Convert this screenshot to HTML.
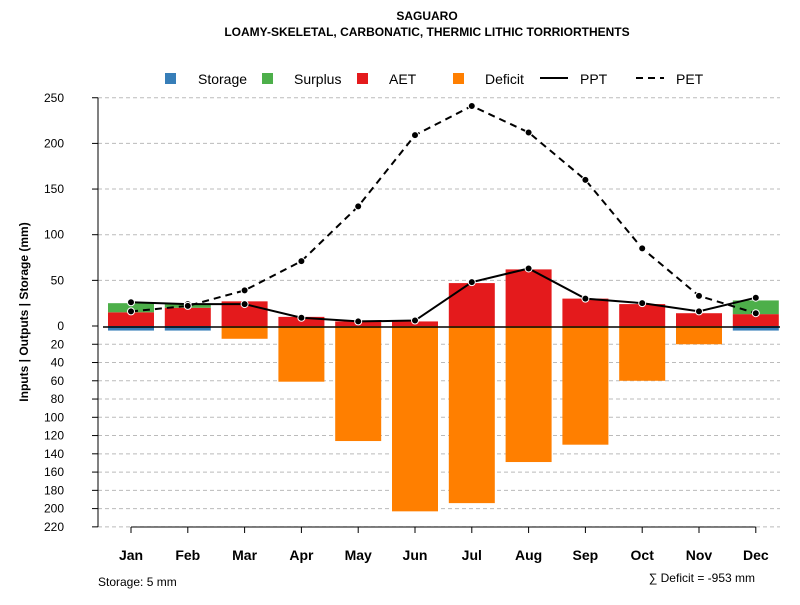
<!DOCTYPE html>
<html><head><meta charset="utf-8"><style>
body{margin:0;background:#fff;font-family:"Liberation Sans",sans-serif}
svg text{font-family:"Liberation Sans",sans-serif}
</style></head><body>
<svg id="c" width="800" height="600" xmlns="http://www.w3.org/2000/svg">
<text x="427" y="20" text-anchor="middle" font-size="12" font-weight="bold">SAGUARO</text>
<text x="427" y="36" text-anchor="middle" font-size="12" font-weight="bold">LOAMY-SKELETAL, CARBONATIC, THERMIC LITHIC TORRIORTHENTS</text>
<g id="grid"></g>
<g id="bars"></g>
<g id="lines"></g>
<g id="axis"></g>
<g id="xaxis"></g>
<text transform="translate(28,312) rotate(-90)" text-anchor="middle" font-size="12" font-weight="bold">Inputs | Outputs | Storage    (mm)</text>
<g>
<rect x="165" y="73" width="11" height="11" fill="#377eb8"/>
<text x="198" y="84" font-size="14">Storage</text>
<rect x="262" y="73" width="11" height="11" fill="#4daf4a"/>
<text x="294" y="84" font-size="14">Surplus</text>
<rect x="357" y="73" width="11" height="11" fill="#e41a1c"/>
<text x="389" y="84" font-size="14">AET</text>
<rect x="453" y="73" width="11" height="11" fill="#ff7f00"/>
<text x="485" y="84" font-size="14">Deficit</text>
<line x1="540" y1="78" x2="568" y2="78" stroke="#000" stroke-width="2"/>
<text x="580" y="84" font-size="14">PPT</text>
<line x1="636" y1="78" x2="664" y2="78" stroke="#000" stroke-width="2" stroke-dasharray="7,5"/>
<text x="676" y="84" font-size="14">PET</text>
</g>
<text x="98" y="586" font-size="12">Storage: 5 mm</text>
<text x="755" y="582" text-anchor="end" font-size="12">∑ Deficit = -953 mm</text>
</svg>
<script>
const months=["Jan","Feb","Mar","Apr","May","Jun","Jul","Aug","Sep","Oct","Nov","Dec"];
const aet=[15,20,27,10,5,5,47,62,30,24,14,13];
const surplus=[10,4,0,0,0,0,0,0,0,0,0,15];
const storage=[5,5,0,0,0,0,0,0,0,0,0,5];
const deficit=[0,0,14,61,126,203,194,149,130,60,20,0];
const ppt=[26,24,24,9,5,6,48,63,30,25,16,31];
const pet=[16,22,39,71,131,209,241,212,160,85,33,14];
const upTicks=[0,50,100,150,200,250];
const downTicks=[20,40,60,80,100,120,140,160,180,200,220];
const NS="http://www.w3.org/2000/svg";
const y0=326,k=0.913;
const yUp=v=>y0-v*k, yDn=v=>y0+v*k;
const xc=i=>131+i*56.8;
function mk(p,tag,a){const e=document.createElementNS(NS,tag);for(const n in a)e.setAttribute(n,a[n]);document.getElementById(p).appendChild(e);return e;}
upTicks.forEach(t=>{const y=yUp(t);
 if(t>0){const g=mk('grid','line',{x1:98,x2:780,y1:y,y2:y,stroke:'#bbb','stroke-dasharray':'4,3'});}
 const tk=mk('axis','line',{x1:92,x2:98,y1:y,y2:y,stroke:'#000'});
 const l=mk('axis','text',{x:64,y:y+4,'text-anchor':'end','font-size':12});l.textContent=t;});
downTicks.forEach(t=>{const y=yDn(t);
 const g=mk('grid','line',{x1:98,x2:780,y1:y,y2:y,stroke:'#bbb','stroke-dasharray':'4,3'});
 const tk=mk('axis','line',{x1:92,x2:98,y1:y,y2:y,stroke:'#000'});
 const l=mk('axis','text',{x:64,y:y+4,'text-anchor':'end','font-size':12});l.textContent=t;});
const ax=mk('axis','line',{x1:98,x2:98,y1:yUp(250),y2:yDn(220),stroke:'#000'});
const bw=46;
months.forEach((m,i)=>{const x=xc(i)-bw/2;
 if(aet[i]>0){const r=mk('bars','rect',{x:x,y:yUp(aet[i]),width:bw,height:aet[i]*k,fill:'#e41a1c'});}
 if(surplus[i]>0){const r=mk('bars','rect',{x:x,y:yUp(aet[i]+surplus[i]),width:bw,height:surplus[i]*k,fill:'#4daf4a'});}
 if(deficit[i]>0){const r=mk('bars','rect',{x:x,y:y0,width:bw,height:deficit[i]*k,fill:'#ff7f00'});}
 if(storage[i]>0){const r=mk('bars','rect',{x:x,y:y0,width:bw,height:storage[i]*k,fill:'#377eb8'});}
 const tk=mk('xaxis','line',{x1:xc(i),x2:xc(i),y1:527,y2:533,stroke:'#000'});
 const l=mk('xaxis','text',{x:xc(i),y:560,'text-anchor':'middle','font-size':14,'font-weight':'bold'});l.textContent=m;});
const xa=mk('xaxis','line',{x1:xc(0),x2:xc(11),y1:527,y2:527,stroke:'#000'});
const zl=mk('lines','line',{x1:103,x2:780,y1:y0+1,y2:y0+1,stroke:'#000','stroke-width':1.5});
function series(arr,name,dash){const pts=arr.map((v,i)=>xc(i)+','+yUp(v)).join(' ');
 const a={points:pts,fill:'none',stroke:'#000','stroke-width':2};if(dash)a['stroke-dasharray']='7,5';
 const p=mk('lines','polyline',a);
 arr.forEach((v,i)=>{const c=mk('lines','circle',{cx:xc(i),cy:yUp(v),r:3.5,fill:'#000',stroke:'#fff','stroke-width':1});});}
series(ppt,'ppt',false);series(pet,'pet',true);
</script>
</body></html>
